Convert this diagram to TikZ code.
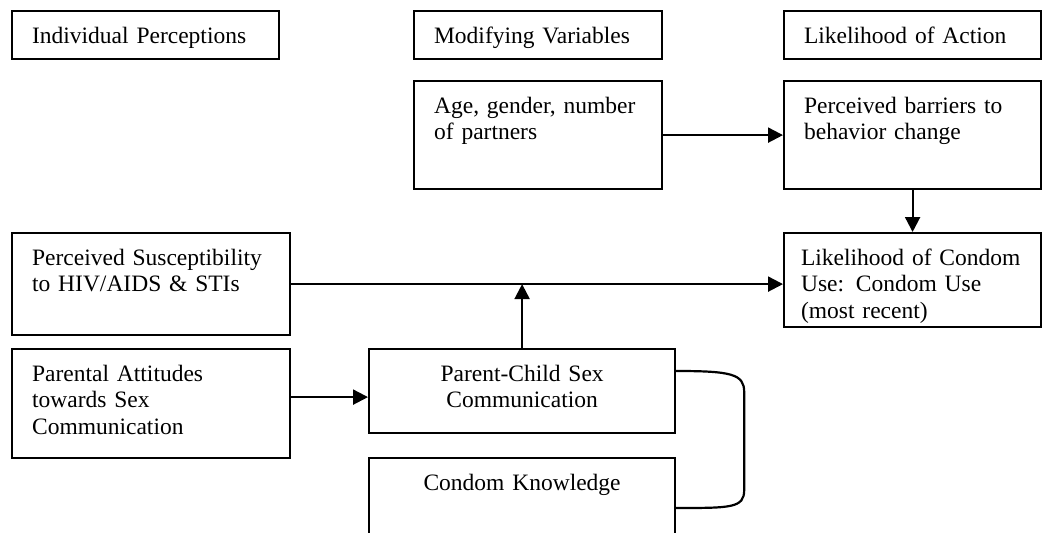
\documentclass[tikz,border=0pt]{standalone}
\usepackage{fontspec}
\setmainfont{Liberation Serif}
\usetikzlibrary{arrows.meta,calc}
\begin{document}
\begin{tikzpicture}[x=1pt,y=-1pt,
  box/.style 2 args={draw, line width=2.2pt, anchor=north west,
    inner xsep=20pt, inner ysep=10pt, text width=#1, align=left,
    text height=22pt, text depth=#2, font=\fontsize{23.5}{26.5}\selectfont,
    execute at begin node={\hyphenpenalty=10000}},
  arr/.style={line width=2.2pt, -{Triangle[length=15pt,width=15pt]}}]
\clip (0,0) rectangle (1042,533);
% headings
\node[box={227pt}{6pt}] (indiv) at (11,10) {Individual Perceptions};
\node[box={208pt}{6pt}] (modif) at (413,10) {Modifying Variables};
\node[box={217pt}{6pt}] (action) at (783,10) {Likelihood of Action};
% boxes
\node[box={208pt}{66pt}] (age) at (413,80) {Age, gender, number\\of partners};
\node[box={217pt}{66pt}] (barr) at (783,80) {Perceived barriers to\\behavior change};
\node[box={238pt}{60pt}] (susc) at (11,232) {Perceived Susceptibility\\to HIV/AIDS \& STIs};
\node[box={223pt}{52pt}, inner xsep=17pt] (lik) at (783,232) {Likelihood of Condom\\Use: Condom Use\\(most recent)};
\node[box={238pt}{67pt}] (par) at (11,348) {Parental Attitudes\\towards Sex\\Communication};
\node[box={266pt}{42pt}, align=center] (pc) at (368,348) {Parent-Child Sex\\Communication};
\node[box={266pt}{100pt}, align=center] (ck) at (368,457) {Condom Knowledge};
% arrows
\draw[arr] (age.east) -- (barr.west);
\draw[arr] (barr.south) -- (lik.north);
\draw[arr] (susc.east) -- (lik.west |- susc.east);
\draw[arr] (pc.north) -- (pc.north |- susc.east);
\coordinate (pcin) at ($(pc.west)+(0,6)$);
\draw[arr] (par.east |- pcin) -- (pcin);
% bracket
\coordinate (pcr) at ($(pc.north east)+(0,23)$);
\coordinate (ckr) at ($(ck.north east)+(0,51)$);
\draw[line width=2.2pt] (pcr) .. controls +(55,0) and +(0,-18) .. ($(pcr)+(68,21)$)
  -- ($(ckr)+(68,-18)$) .. controls +(0,18) and +(55,0) .. (ckr);
\end{tikzpicture}
\end{document}
